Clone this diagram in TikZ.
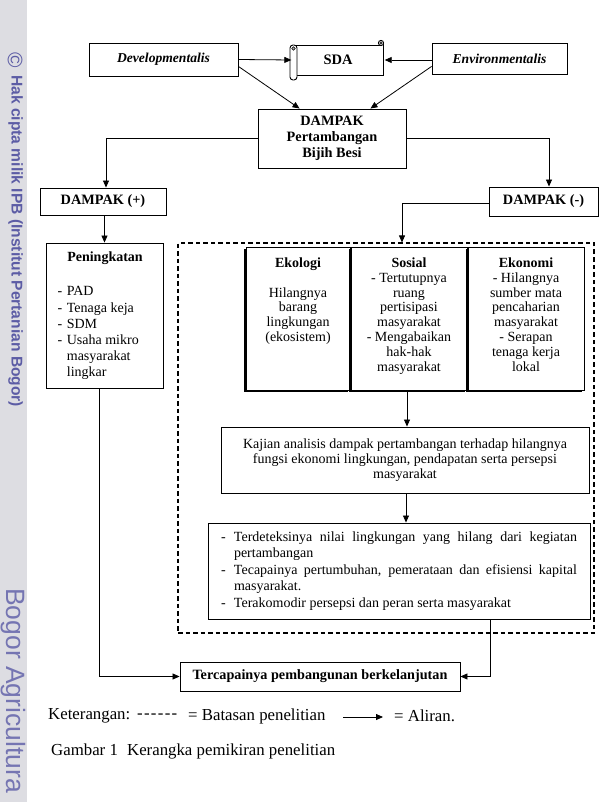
\documentclass[tikz,border=0pt]{standalone}
\usepackage{fontspec}
\setmainfont{Liberation Serif}
\newfontfamily\wmfont{Liberation Sans}
\usetikzlibrary{arrows.meta,shadows}
\definecolor{wmblue}{RGB}{92,92,165}
\definecolor{wmgray}{RGB}{221,221,226}
\begin{document}
\begin{tikzpicture}[x=1pt,y=-1pt,
  box/.style={draw,line width=0.9pt,inner sep=0pt,align=center},
  sbox/.style={box,fill=white,drop shadow={shadow xshift=-2pt,shadow yshift=-2pt,opacity=1,fill=black}},
  flow/.style={line width=0.8pt,-{Triangle[length=7pt,width=6pt]}},
  txt/.style={inner sep=0pt,font=\fontsize{14}{15.5}\selectfont},
  legend/.style={inner sep=0pt,anchor=west,font=\fontsize{16.8}{18}\selectfont},
]
\useasboundingbox (0,0) rectangle (603,802);

% watermark strip
\fill[wmgray] (0,0) rectangle (27,802);
\node[text=wmblue,rotate=-90,inner sep=0pt,font=\wmfont\fontsize{21}{21}\selectfont] (copy) at (15,60) {©};
\node[text=wmblue,rotate=-90,anchor=west,inner sep=0pt,font=\wmfont\bfseries\fontsize{15.6}{16}\selectfont] (hak) at (15.5,75) {Hak cipta milik IPB (Institut Pertanian Bogor)};
\node[text=wmblue!85,rotate=-90,anchor=west,inner sep=0pt,font=\wmfont\fontsize{26.5}{26}\selectfont] (bogor) at (13.5,588) {Bogor Agricultura};

% top row
\node[box,minimum width=149pt,minimum height=33pt,font=\fontsize{13.6}{15}\selectfont\bfseries\itshape] (dev) at (163.5,59.5) {Developmentalis};
\node[box,minimum width=135pt,minimum height=31pt,font=\fontsize{13.6}{15}\selectfont\bfseries\itshape] (env) at (499.5,58.5) {Environmentalis};
\node[inner sep=0pt,minimum width=93pt,minimum height=30pt,font=\fontsize{14.5}{15}\selectfont\bfseries] (sda) at (338,60) {SDA};
% scroll shape
\draw[line width=0.9pt] (296,45) -- (381,45);
\draw[line width=0.9pt] (383,43) -- (383,75) -- (296,75);
\draw[line width=0.9pt,fill=white,rounded corners=3pt] (290,45) rectangle (297,80);
\draw[line width=0.6pt,fill=gray!60] (293.5,48.5) circle (1.8pt);
\draw[line width=0.9pt,fill=white] (381,43) circle (2.6pt);
\draw[line width=0.6pt,fill=gray!60] (381,43) circle (1.2pt);

\draw[flow] (dev.east) -- (sda.west);
\draw[flow] (env.west |- sda.east) -- (sda.east);

\node[box,minimum width=148pt,minimum height=59pt,font=\fontsize{14.3}{16}\selectfont\bfseries] (dampak) at (332,138.5) {DAMPAK\\Pertambangan\\Bijih Besi};
\draw[flow] ([yshift=10pt]dev.south east) -- ([xshift=42pt]dampak.north west);
\draw[flow] ([yshift=8pt]env.south west) -- ([xshift=-36pt]dampak.north east);

\node[box,minimum width=126pt,minimum height=27pt,font=\fontsize{14.3}{15}\selectfont\bfseries] (dplus) at (103,201.5) {DAMPAK (+)};
\node[box,minimum width=109pt,minimum height=29pt,font=\fontsize{14.3}{15}\selectfont\bfseries] (dminus) at (543.5,201.5) {DAMPAK (-)};
\draw[flow] (dampak.west) -| ([xshift=3pt]dplus.north);
\draw[flow] (dampak.east) -| ([xshift=5.5pt]dminus.north);

% research boundary
\node[draw,dash pattern=on 4.5pt off 3pt,line width=1.1pt,inner sep=0pt,minimum width=416pt,minimum height=390pt] (lim) at (386,438) {};
\draw[flow] ([yshift=-1.5pt]dminus.west) -| ([xshift=16pt]lim.north);

% Peningkatan
\node[box,minimum width=117pt,minimum height=145pt] (pen) at (104.5,315.5) {};
\draw[flow] (dplus.south -| pen.north) -- (pen.north);
\node[txt,font=\fontsize{14}{15.5}\selectfont\bfseries] (pentitle) at (105,258) {Peningkatan};
\node[txt,anchor=north west,font=\fontsize{14}{16.2}\selectfont] (penlist) at (57.5,284.4) {%
\begin{tabular}{@{}l@{\hspace{4.5pt}}l@{}}
-&PAD\\ -&Tenaga keja\\ -&SDM\\ -&Usaha mikro\\ &masyarakat\\ &lingkar
\end{tabular}};

% three impact boxes
\node[sbox,minimum width=104pt,minimum height=143pt] (eko) at (298,318.5) {};
\node[sbox,minimum width=116pt,minimum height=143pt] (sos) at (409,318.5) {};
\node[sbox,minimum width=116pt,minimum height=143pt] (ekn) at (526,318.5) {};
\node[txt,anchor=north,align=center,font=\fontsize{14}{14.8}\selectfont] (ekotext) at (298,257.5) {\textbf{Ekologi}\\[14.8pt]Hilangnya\\barang\\lingkungan\\(ekosistem)};
\node[txt,anchor=north,align=center,font=\fontsize{14}{14.8}\selectfont] (sostext) at (409,257.5) {\textbf{Sosial}\\- Tertutupnya\\ruang\\pertisipasi\\masyarakat\\- Mengabaikan\\hak-hak\\masyarakat};
\node[txt,anchor=north,align=center,font=\fontsize{14}{14.8}\selectfont] (ekntext) at (526,257.5) {\textbf{Ekonomi}\\- Hilangnya\\sumber mata\\pencaharian\\masyarakat\\- Serapan\\tenaga kerja\\lokal};

% analysis
\node[box,minimum width=368pt,minimum height=66pt,font=\fontsize{14}{15.3}\selectfont] (kajian) at (405,460) {Kajian analisis dampak pertambangan terhadap hilangnya\\fungsi ekonomi lingkungan, pendapatan serta persepsi\\masyarakat};
\draw[flow] ([xshift=-2pt]sos.south) -- ([xshift=-2pt]sos.south |- kajian.north);

\node[box,minimum width=382pt,minimum height=96pt,text width=356pt,align=justify,font=\fontsize{14}{16.5}\selectfont] (bul) at (399,571) {%
\hyphenpenalty=10000\exhyphenpenalty=10000
\hangindent=13pt\hangafter=1\makebox[13pt][l]{-}Terdeteksinya nilai lingkungan yang hilang dari kegiatan pertambangan\par
\hangindent=13pt\hangafter=1\makebox[13pt][l]{-}Tecapainya pertumbuhan, pemerataan dan efisiensi kapital masyarakat.\par
\hangindent=13pt\hangafter=1\makebox[13pt][l]{-}Terakomodir persepsi dan peran serta masyarakat\par};
\draw[flow] (kajian.south -| 406,0) -- (bul.north -| 406,0);

% result
\node[box,minimum width=280pt,minimum height=29pt,font=\fontsize{14.2}{15}\selectfont\bfseries] (ter) at (320,676.5) {Tercapainya pembangunan berkelanjutan};
\draw[flow] ([xshift=-5.5pt]pen.south) |- (ter.west);
\draw[flow] ([xshift=91pt]bul.south) |- (ter.east);

% legend and caption
\node[legend] (ket) at (48,716) {Keterangan:};
\node[legend] (dsh) at (137,716.5) {-\kern1.3pt-\kern1.3pt-\kern1.3pt-\kern1.3pt-\kern1.3pt-};
\node[legend] (bat) at (188,716) {= Batasan penelitian};
\coordinate (la) at (343,717);
\coordinate (lb) at (383,717);
\draw[flow] (la) -- (lb);
\node[legend] (alr) at (394,716) {= Aliran.};
\node[legend] (cap) at (51,751) {Gambar 1\hspace{0.55em}Kerangka pemikiran penelitian};
\end{tikzpicture}
\end{document}
